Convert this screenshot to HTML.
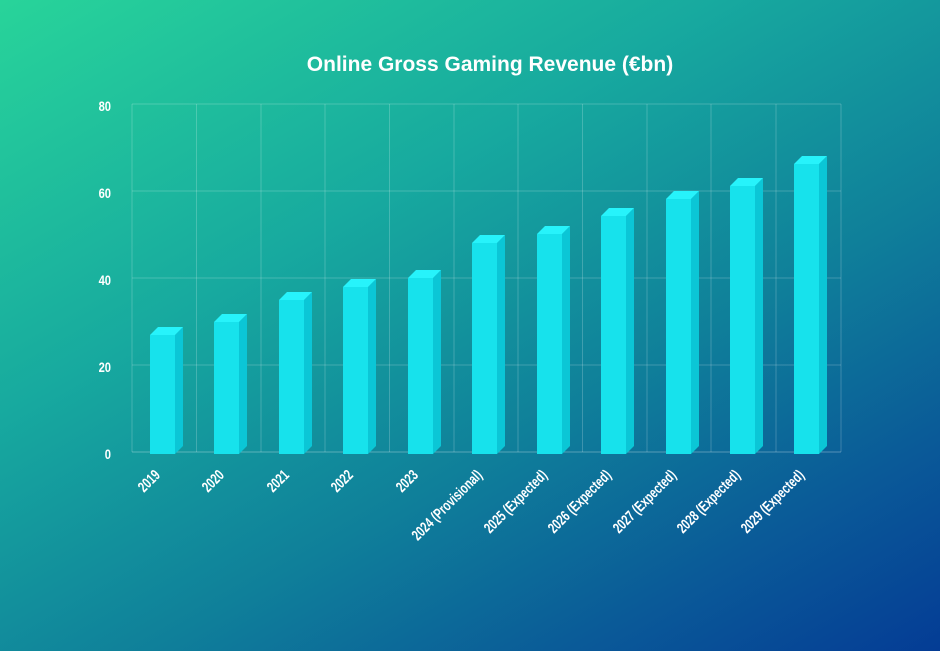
<!DOCTYPE html>
<html><head><meta charset="utf-8"><style>
html,body{margin:0;padding:0;width:940px;height:651px;overflow:hidden}
body{background:linear-gradient(150deg,#28d49a 0%,#17a99f 35%,#0f7f9a 62%,#0a5a98 82%,#043c95 100%)}
</style></head><body>
<svg width="940" height="651" xmlns="http://www.w3.org/2000/svg" style="position:absolute;left:0;top:0">
<text x="490" y="71" text-anchor="middle" font-family="Liberation Sans, sans-serif" font-weight="bold" font-size="21" fill="#fff">Online Gross Gaming Revenue (€bn)</text>
<g stroke="rgba(255,255,255,0.2)" stroke-width="1">
<line x1="132" y1="104" x2="841" y2="104"/><line x1="132" y1="191" x2="841" y2="191"/><line x1="132" y1="278" x2="841" y2="278"/><line x1="132" y1="365" x2="841" y2="365"/><line x1="132" y1="452" x2="841" y2="452" stroke="rgba(255,255,255,0.3)"/>
<line x1="132" y1="104" x2="132" y2="452"/><line x1="196.5" y1="104" x2="196.5" y2="452"/><line x1="261" y1="104" x2="261" y2="452"/><line x1="325" y1="104" x2="325" y2="452"/><line x1="389.5" y1="104" x2="389.5" y2="452"/><line x1="454" y1="104" x2="454" y2="452"/><line x1="518" y1="104" x2="518" y2="452"/><line x1="582.5" y1="104" x2="582.5" y2="452"/><line x1="647" y1="104" x2="647" y2="452"/><line x1="711" y1="104" x2="711" y2="452"/><line x1="776" y1="104" x2="776" y2="452"/><line x1="841" y1="104" x2="841" y2="452"/>
</g>
<g font-family="Liberation Sans Narrow, Liberation Sans, sans-serif" font-weight="bold" font-size="14" fill="#fff" text-anchor="end">
<text transform="translate(111,111) scale(0.8,1)">80</text><text transform="translate(111,198) scale(0.8,1)">60</text><text transform="translate(111,285) scale(0.8,1)">40</text><text transform="translate(111,372) scale(0.8,1)">20</text><text transform="translate(111,459) scale(0.8,1)">0</text>
</g>
<g>
<polygon points="175,335 183,327 183,446 175,454" fill="#0bc6d6"/><polygon points="150,335 158,327 183,327 175,335" fill="#27f3fb"/><rect x="150" y="335" width="25" height="119" fill="#17e2ec"/>
<polygon points="239,322 247,314 247,446 239,454" fill="#0bc6d6"/><polygon points="214,322 222,314 247,314 239,322" fill="#27f3fb"/><rect x="214" y="322" width="25" height="132" fill="#17e2ec"/>
<polygon points="304,300 312,292 312,446 304,454" fill="#0bc6d6"/><polygon points="279,300 287,292 312,292 304,300" fill="#27f3fb"/><rect x="279" y="300" width="25" height="154" fill="#17e2ec"/>
<polygon points="368,287 376,279 376,446 368,454" fill="#0bc6d6"/><polygon points="343,287 351,279 376,279 368,287" fill="#27f3fb"/><rect x="343" y="287" width="25" height="167" fill="#17e2ec"/>
<polygon points="433,278 441,270 441,446 433,454" fill="#0bc6d6"/><polygon points="408,278 416,270 441,270 433,278" fill="#27f3fb"/><rect x="408" y="278" width="25" height="176" fill="#17e2ec"/>
<polygon points="497,243 505,235 505,446 497,454" fill="#0bc6d6"/><polygon points="472,243 480,235 505,235 497,243" fill="#27f3fb"/><rect x="472" y="243" width="25" height="211" fill="#17e2ec"/>
<polygon points="562,234 570,226 570,446 562,454" fill="#0bc6d6"/><polygon points="537,234 545,226 570,226 562,234" fill="#27f3fb"/><rect x="537" y="234" width="25" height="220" fill="#17e2ec"/>
<polygon points="626,216 634,208 634,446 626,454" fill="#0bc6d6"/><polygon points="601,216 609,208 634,208 626,216" fill="#27f3fb"/><rect x="601" y="216" width="25" height="238" fill="#17e2ec"/>
<polygon points="691,199 699,191 699,446 691,454" fill="#0bc6d6"/><polygon points="666,199 674,191 699,191 691,199" fill="#27f3fb"/><rect x="666" y="199" width="25" height="255" fill="#17e2ec"/>
<polygon points="755,186 763,178 763,446 755,454" fill="#0bc6d6"/><polygon points="730,186 738,178 763,178 755,186" fill="#27f3fb"/><rect x="730" y="186" width="25" height="268" fill="#17e2ec"/>
<polygon points="819,164 827,156 827,446 819,454" fill="#0bc6d6"/><polygon points="794,164 802,156 827,156 819,164" fill="#27f3fb"/><rect x="794" y="164" width="25" height="290" fill="#17e2ec"/>
</g>
<g font-family="Liberation Sans Narrow, Liberation Sans, sans-serif" font-weight="bold" font-size="15" fill="#fff" text-anchor="end">
<text transform="translate(161,476) rotate(-45) scale(0.72,1)">2019</text>
<text transform="translate(225,476) rotate(-45) scale(0.72,1)">2020</text>
<text transform="translate(290,476) rotate(-45) scale(0.72,1)">2021</text>
<text transform="translate(354,476) rotate(-45) scale(0.72,1)">2022</text>
<text transform="translate(419,476) rotate(-45) scale(0.72,1)">2023</text>
<text transform="translate(483,476) rotate(-45) scale(0.72,1)">2024 (Provisional)</text>
<text transform="translate(548,476) rotate(-45) scale(0.72,1)">2025 (Expected)</text>
<text transform="translate(612,476) rotate(-45) scale(0.72,1)">2026 (Expected)</text>
<text transform="translate(677,476) rotate(-45) scale(0.72,1)">2027 (Expected)</text>
<text transform="translate(741,476) rotate(-45) scale(0.72,1)">2028 (Expected)</text>
<text transform="translate(805,476) rotate(-45) scale(0.72,1)">2029 (Expected)</text>
</g>
</svg>
</body></html>
